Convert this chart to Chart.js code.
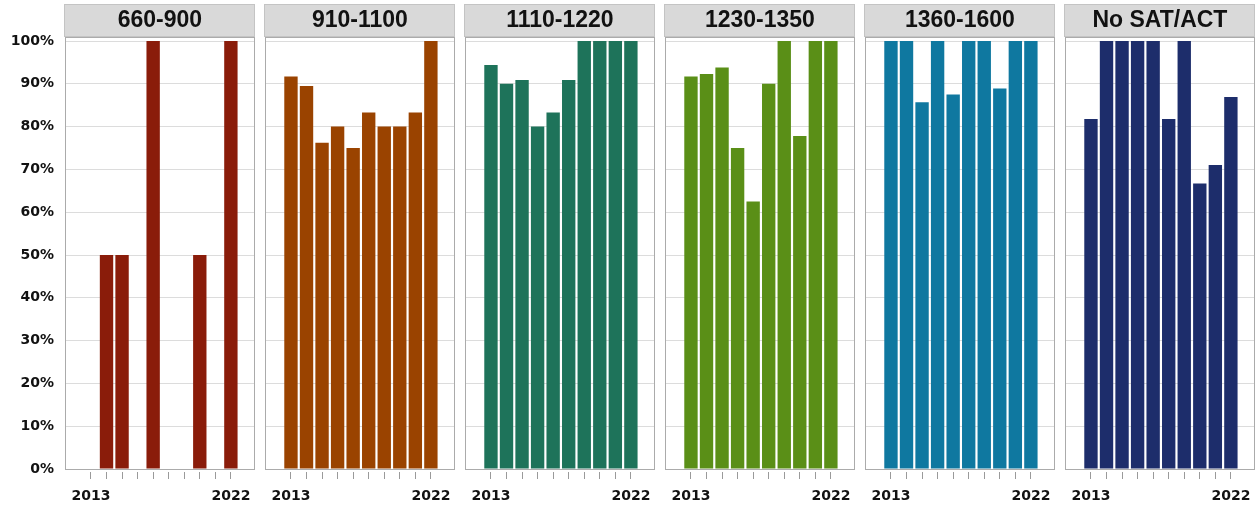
<!DOCTYPE html>
<html><head><meta charset="utf-8">
<script src="https://cdn.jsdelivr.net/npm/chart.js@4.4.1/dist/chart.umd.min.js"></script>
<style>
html,body{margin:0;padding:0;background:#fff;width:1259px;height:512px;overflow:hidden;}
canvas{position:absolute;top:0;}
</style></head><body>
<script>
const years = [2013,2014,2015,2016,2017,2018,2019,2020,2021,2022];
const panelTitles = ['660-900','910-1100','1110-1220','1230-1350','1360-1600','No SAT/ACT'];
const v660  = [null,50,50,null,100,null,null,50,null,100];
const v910  = [91.7,89.5,76.2,80,75,83.3,80,80,83.3,100];
const v1110 = [94.4,90,90.9,80,83.3,90.9,100,100,100,100];
const v1230 = [91.7,92.3,93.8,75,62.5,90,100,77.8,100,100];
const v1360 = [100,100,85.7,100,87.5,100,100,88.9,100,100];
const vNone = [81.8,100,100,100,100,81.8,100,66.7,71,86.9];
const yTicks = [0,10,20,30,40,50,60,70,80,90,100];
const shownYears = [2013,2022];

const series = [v660,v910,v1110,v1230,v1360,vNone];
const colors = ['#8a1c0a','#9a4300','#1e735a','#5a8f17','#0f78a0','#1d2d6b'];

const framePlugin = {
  id:'frame',
  afterDatasetsDraw(chart){
    const a = chart.chartArea, c = chart.ctx;
    c.save();
    c.strokeStyle = '#ababab'; c.lineWidth = 1;
    c.strokeRect(Math.round(a.left)+0.5, 37.5, Math.round(a.right-a.left)-1, Math.round(a.bottom)-37);
    // header
    c.fillStyle = '#d9d9d9';
    c.fillRect(Math.round(a.left)-1, 4, Math.round(a.right-a.left)+1, 33);
    c.strokeStyle = '#c4c4c4';
    c.strokeRect(Math.round(a.left)-0.5, 4.5, Math.round(a.right-a.left), 32);
    c.fillStyle = '#111';
    c.font = 'bold 23px "Liberation Sans", Arial, sans-serif';
    c.textAlign = 'center'; c.textBaseline = 'middle';
    c.fillText(chart.options.plugins.frame.title, (a.left+a.right)/2, 21);
    c.restore();
  }
};

series.forEach((vals, i) => {
  const cv = document.createElement('canvas');
  const first = i === 0;
  const left = first ? 0 : 260 + 200*(i-1);
  const w = first ? 260 : 200;
  cv.width = w; cv.height = 512;
  cv.style.left = left + 'px';
  cv.style.width = w + 'px'; cv.style.height = '512px';
  document.body.appendChild(cv);
  const pts = [];
  years.forEach((y, k) => { if (vals[k] !== null) pts.push({x: y, y: vals[k]}); });
  new Chart(cv, {
    type: 'bar',
    data: { datasets: [{ data: pts, backgroundColor: colors[i], borderWidth: 0,
      barPercentage: 0.86, categoryPercentage: 1.0 }] },
    plugins: [framePlugin],
    options: {
      responsive: false, animation: false,
      layout: { padding: { left: first ? 0 : 5, right: 5, top: 41, bottom: 0 }, autoPadding: false },
      plugins: { legend: {display:false}, tooltip: {enabled:false}, frame: { title: panelTitles[i] } },
      scales: {
        x: {
          type: 'linear', min: 2011.33, max: 2023.54, offset: false,
          afterBuildTicks: s => { s.ticks = years.map(v => ({value: v})); },
          afterFit: s => { s.height = 43; },
          border: { display: false },
          grid: { offset: false, drawOnChartArea: false, drawTicks: true, tickLength: 10, color: '#9a9a9a',
                  tickBorderDash: [0, 3, 7, 40] },
          ticks: { autoSkip: false, maxRotation: 0, padding: 9, color: '#111',
                   font: { family: '"DejaVu Sans", sans-serif', weight: 'bold', size: 14 },
                   callback: v => shownYears.includes(v) ? String(v) : '' }
        },
        y: {
          min: 0, max: 100,
          afterBuildTicks: s => { s.ticks = yTicks.map(v => ({value: v})); },
          afterFit: s => { s.width = first ? 65 : 0; },
          border: { display: false },
          grid: { color: '#dcdcdc', drawTicks: false, lineWidth: 1 },
          ticks: { display: first, padding: 11, color: '#111',
                   font: { family: '"DejaVu Sans", sans-serif', weight: 'bold', size: 14 },
                   callback: v => v + '%' }
        }
      }
    }
  });
});
</script>
</body></html>
